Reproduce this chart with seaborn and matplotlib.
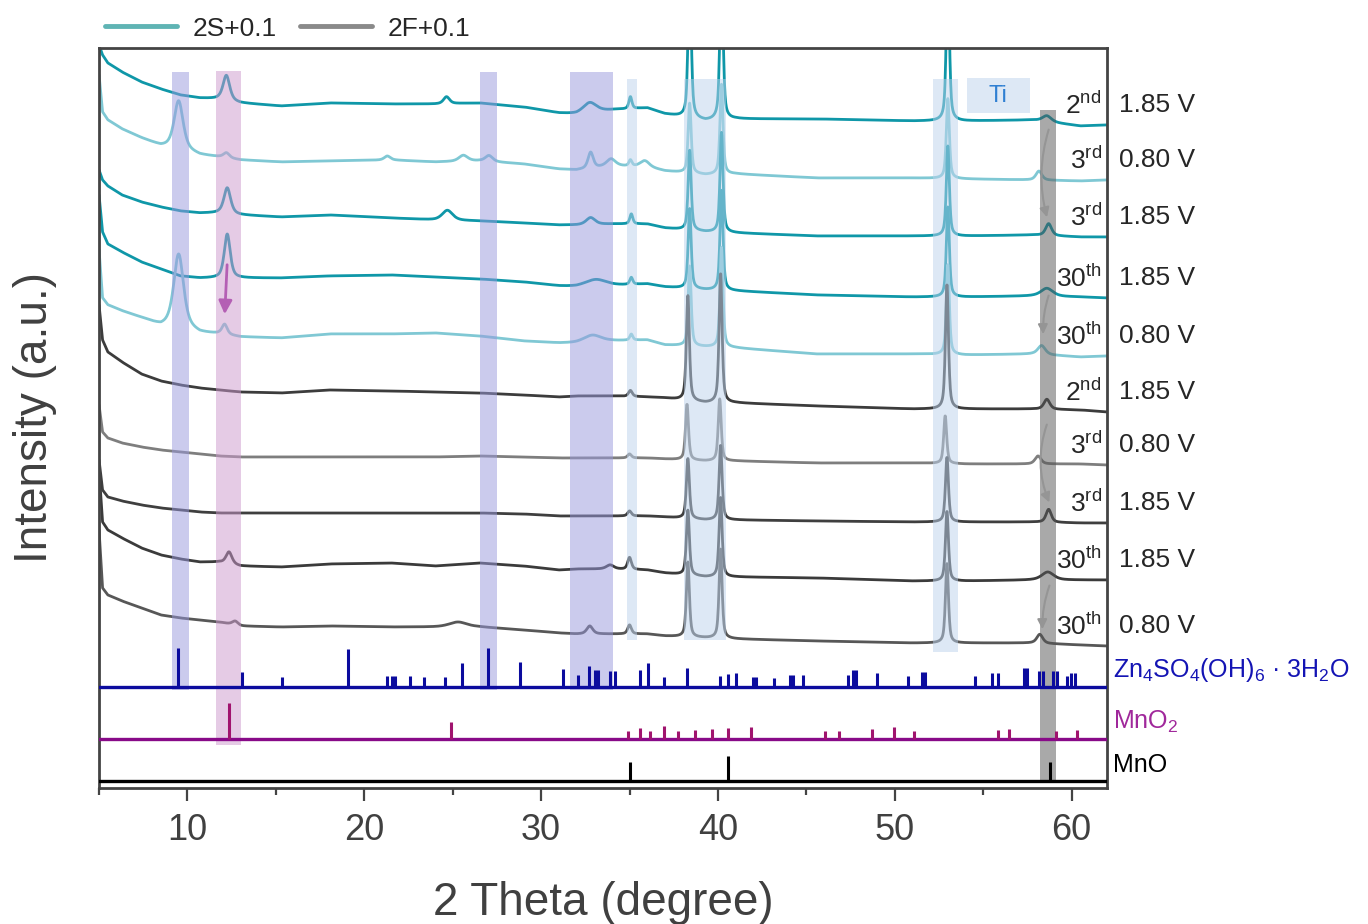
import numpy as np
import pandas as pd
import matplotlib
matplotlib.use('Agg')
import matplotlib.pyplot as plt
from matplotlib.lines import Line2D
import seaborn as sns

# ---- data ---------------------------------------------------------------
# 2-theta positions where the baselines were read
knots = [5.0, 5.2, 5.5, 6.3, 7.4, 8.5, 9.6, 10.7, 11.8, 13.0, 15.3, 18.0, 21.5, 24.0,
         26.5, 29.0, 31.0, 32.0, 34.0, 36.0, 37.0, 39.3, 41.0, 45.6, 51.0, 54.0, 57.8,
         60.5, 62.0]

# stacked baselines (a.u., offsets included), top curve first
base_2s_2nd_185 = [743, 733, 725, 716, 706, 699, 693, 690, 689, 685, 682, 685, 684, 684,
                   685, 681, 675, 674, 678, 680, 674, 667, 669, 669, 667, 667, 668, 662, 663]
base_2s_3rd_080 = [713, 676, 668, 659, 650, 642, 639, 633, 631, 628, 626, 627, 628, 626,
                   627, 624, 619, 618, 622, 621, 617, 613, 614, 610, 610, 609, 608, 607, 608]
base_2s_3rd_185 = [618, 608, 602, 593, 586, 581, 577, 575, 575, 573, 571, 573, 570, 568,
                   567, 565, 563, 563, 564, 564, 560, 556, 555, 552, 552, 552, 553, 551, 551]
base_2s_30th_185 = [593, 556, 544, 536, 526, 519, 512, 510, 510, 510, 510, 512, 513, 511,
                    509, 506, 502, 501, 502, 504, 501, 498, 497, 493, 491, 491, 492, 491, 490]
base_2s_30th_080 = [538, 490, 483, 477, 470, 462, 462, 455, 454, 451, 450, 454, 454, 455,
                    452, 447, 445, 445, 447, 448, 443, 441, 440, 434, 434, 433, 434, 431, 432]
base_2f_2nd_185 = [483, 448, 436, 426, 414, 407, 403, 400, 398, 396, 395, 398, 397, 396,
                   395, 393, 391, 392, 392, 391, 390, 385, 385, 382, 379, 379, 379, 378, 376]
base_2f_3rd_080 = [383, 356, 350, 345, 341, 338, 336, 334, 332, 331, 331, 331, 331, 331,
                   332, 331, 330, 330, 330, 330, 329, 327, 327, 325, 325, 324, 324, 324, 323]
base_2f_3rd_185 = [328, 298, 291, 287, 283, 280, 278, 276, 275, 275, 275, 275, 275, 275,
                   275, 274, 272, 272, 272, 272, 271, 268, 268, 267, 266, 266, 266, 265, 265]
base_2f_30th_185 = [318, 266, 258, 250, 240, 233, 229, 226, 226, 222, 221, 224, 225, 222,
                    225, 222, 218, 219, 219, 218, 215, 211, 211, 210, 207, 207, 208, 208, 208]
base_2f_30th_080 = [258, 200, 193, 187, 180, 173, 170, 168, 166, 162, 161, 162, 161, 161,
                    161, 158, 155, 154, 154, 154, 152, 150, 149, 147, 145, 145, 145, 143, 142]

# peaks: (2-theta, height, fwhm)
peaks_2s_2nd_185 = [(12.2, 25, 0.45), (24.65, 7, 0.4), (32.75, 10, 0.9), (35.05, 12, 0.2),
                    (38.4, 160, 0.2), (40.2, 170, 0.2), (53.0, 160, 0.2), (58.6, 6, 0.6)]
peaks_2s_3rd_080 = [(9.5, 48, 0.6), (12.2, 5, 0.4), (21.3, 4, 0.4), (25.6, 6, 0.6),
                    (27.05, 6, 0.5), (32.8, 16, 0.35), (33.95, 7, 0.6), (35.05, 6, 0.2),
                    (35.85, 6, 0.6), (38.4, 70, 0.2), (40.2, 90, 0.2), (53.0, 80, 0.2),
                    (58.15, 9, 0.4)]
peaks_2s_3rd_185 = [(12.25, 26, 0.45), (24.7, 10, 0.7), (32.8, 7, 0.6), (35.1, 10, 0.2),
                    (38.4, 80, 0.2), (40.2, 100, 0.2), (53.0, 90, 0.2), (58.7, 12, 0.4)]
peaks_2s_30th_185 = [(12.25, 44, 0.4), (33.1, 7, 1.5), (35.1, 7, 0.2), (38.4, 80, 0.2),
                     (40.2, 100, 0.2), (53.0, 90, 0.2), (58.6, 8, 0.8)]
peaks_2s_30th_080 = [(9.5, 72, 0.65), (12.1, 10, 0.35), (32.9, 7, 1.2), (35.1, 6, 0.2),
                     (38.4, 80, 0.2), (40.2, 100, 0.2), (53.0, 90, 0.2), (58.3, 9, 0.5)]
peaks_2f_2nd_185 = [(35.05, 6, 0.25), (38.3, 105, 0.2), (40.15, 130, 0.2),
                    (52.95, 125, 0.2), (58.6, 10, 0.4)]
peaks_2f_3rd_080 = [(35.0, 4, 0.25), (38.25, 56, 0.2), (40.1, 62, 0.2), (52.85, 48, 0.2),
                    (58.1, 8, 0.4)]
peaks_2f_3rd_185 = [(35.0, 5, 0.25), (38.3, 60, 0.2), (40.15, 75, 0.2), (52.95, 65, 0.2),
                    (58.7, 13, 0.35)]
peaks_2f_30th_185 = [(12.35, 12, 0.4), (33.9, 4, 0.5), (35.0, 12, 0.25), (38.3, 65, 0.2),
                     (40.15, 80, 0.2), (52.95, 70, 0.2), (58.65, 8, 0.8)]
peaks_2f_30th_080 = [(12.7, 4, 0.4), (25.3, 5, 1.2), (32.75, 8, 0.4), (35.0, 9, 0.25),
                     (38.3, 75, 0.2), (40.15, 90, 0.2), (52.95, 80, 0.2), (58.2, 9, 0.4)]

cycles = ['2nd', '3rd', '3rd', '30th', '30th', '2nd', '3rd', '3rd', '30th', '30th']
voltages = ['1.85 V', '0.80 V', '1.85 V', '1.85 V', '0.80 V',
            '1.85 V', '0.80 V', '1.85 V', '1.85 V', '0.80 V']

# reference stick patterns (2-theta, relative height)
zn_pos = [9.49, 13.09, 15.37, 19.09, 21.26, 21.54, 21.71, 22.6, 23.39, 24.58, 25.55, 26.97,
          28.78, 31.25, 32.08, 32.7, 33.05, 33.21, 33.89, 34.18, 35.58, 36.07, 36.96, 38.27,
          40.12, 40.59, 41.03, 42.01, 42.14, 43.18, 44.05, 44.25, 44.79, 47.36, 47.66, 47.81,
          49.02, 50.74, 51.52, 51.71, 54.53, 55.5, 55.84, 57.3, 57.49, 58.17, 58.37, 58.95,
          59.19, 59.73, 59.98, 60.18]
zn_int = [39, 15, 10, 38, 11, 11, 11, 11, 10, 10, 24, 39, 25, 18, 12, 21, 17, 17, 16, 16,
          17, 24, 10, 19, 11, 13, 14, 10, 10, 9, 12, 12, 12, 12, 17, 17, 14, 11, 15, 15, 11,
          14, 14, 19, 19, 16, 16, 16, 16, 11, 14, 14]
mno2_pos = [12.36, 24.88, 34.9, 35.58, 36.16, 36.96, 37.72, 38.72, 39.69, 40.57, 41.87,
            46.04, 46.82, 48.69, 49.97, 51.1, 55.84, 56.44, 59.11, 60.28]
mno2_int = [36, 17, 8, 11, 8, 13, 8, 9, 10, 11, 12, 8, 8, 10, 12, 8, 9, 10, 8, 9]
mno_pos = [35.0, 40.59, 58.76]
mno_int = [19, 25, 19]

# ---- build curves --------------------------------------------------------
names = [f'{s} {c} {v}' for s in ('2S', '2F') for c, v in
         zip(cycles[:5], voltages[:5])]
bases = [base_2s_2nd_185, base_2s_3rd_080, base_2s_3rd_185, base_2s_30th_185,
         base_2s_30th_080, base_2f_2nd_185, base_2f_3rd_080, base_2f_3rd_185,
         base_2f_30th_185, base_2f_30th_080]
peaks = [peaks_2s_2nd_185, peaks_2s_3rd_080, peaks_2s_3rd_185, peaks_2s_30th_185,
         peaks_2s_30th_080, peaks_2f_2nd_185, peaks_2f_3rd_080, peaks_2f_3rd_185,
         peaks_2f_30th_185, peaks_2f_30th_080]
colors = ['#0f97a8', '#7fc8d4', '#0f97a8', '#0f97a8', '#80c8d4',
          '#3c3c3c', '#7e7e7e', '#3f3f3f', '#3b3b3b', '#575757']


def pattern(x, base, pk):
    y = np.interp(x, knots, base)
    for c, h, w in pk:
        d = (x - c) / w
        y = y + h * (0.6 / (1 + 4 * d ** 2) + 0.4 * np.exp(-4 * np.log(2) * d ** 2))
    return y


tt = np.arange(5.0, 62.001, 0.02)
frames = []
for n, b, p in zip(names, bases, peaks):
    frames.append(pd.DataFrame({'2theta': tt, 'intensity': pattern(tt, b, p), 'curve': n}))
df = pd.concat(frames, ignore_index=True)

# ---- plot ----------------------------------------------------------------
sns.set_style('white')
plt.rcParams['font.family'] = ['Liberation Sans', 'DejaVu Sans']
plt.rcParams['mathtext.fontset'] = 'custom'
plt.rcParams['mathtext.rm'] = 'Liberation Sans'
plt.rcParams['mathtext.it'] = 'Liberation Sans:italic'

fig = plt.figure(figsize=(13.68, 9.24), dpi=100)
ax = fig.add_axes([0.0724, 0.1472, 0.7368, 0.8009])

sns.lineplot(data=df, x='2theta', y='intensity', hue='curve', hue_order=names,
             palette=dict(zip(names, colors)), estimator=None, sort=False,
             legend=False, lw=2.0, ax=ax)

# highlight bands (drawn over the curves, semi transparent)
lav, pink, lblue, grey = '#9898dc', '#cc98cc', '#bcd2ec', '#555555'
bands = [(9.1, 10.11, 98, 716, lav), (11.64, 13.0, 43, 717, pink),
         (26.52, 27.48, 98, 716, lav), (31.66, 34.04, 98, 716, lav),
         (34.85, 35.4, 148, 709, lblue), (38.07, 40.45, 148, 709, lblue),
         (52.14, 53.55, 136, 709, lblue), (58.19, 59.1, 8, 678, grey),
         (54.06, 57.62, 675, 710, lblue)]
for x0, x1, y0, y1, c in bands:
    ax.fill_between([x0, x1], y0, y1, color=c, alpha=0.5, lw=0, zorder=3)
ax.text(55.84, 692, 'Ti', color='#2f7fd2', fontsize=17, ha='center', va='center', zorder=5)

# reference sticks
for pos, inten, y0, lc, sc in [(zn_pos, zn_int, 101, '#0b0b9e', '#0b0b9e'),
                               (mno2_pos, mno2_int, 49, '#880a88', '#a0146e'),
                               (mno_pos, mno_int, 7, 'black', 'black')]:
    ax.axhline(y0, color=lc, lw=2.4, zorder=4)
    ax.vlines(pos, y0, np.array(inten) + y0, color=sc, lw=2.2, zorder=4)

ax.text(62.35, 118, r'Zn$_4$SO$_4$(OH)$_6$ · 3H$_2$O', color='#1414b4', fontsize=18,
        va='center', ha='left')
ax.text(62.35, 66, r'MnO$_2$', color='#a0289b', fontsize=18, va='center', ha='left')
ax.text(62.35, 23, 'MnO', color='black', fontsize=18, va='center', ha='left')

# curve labels
for b, cyc, volt in zip(bases, cycles, voltages):
    ylab = b[-1] + 20
    num, suf = cyc[:-2], cyc[-2:]
    ax.text(61.7, ylab, num + r'$^{\mathrm{' + suf + '}}$', fontsize=19, ha='right',
            va='center', zorder=6)
    ax.text(62.7, ylab, volt, fontsize=19, ha='left', va='center')

# arrows
ax.annotate('', xy=(12.1, 471), xytext=(12.25, 526),
            arrowprops=dict(arrowstyle='-|>', color='#b45fb4', lw=2, mutation_scale=20),
            zorder=6)
for (x0, y0), (x1, y1), r in [((58.75, 661), (58.65, 568), 0.15),
                              ((58.75, 495), (58.4, 451), 0.1),
                              ((58.65, 366), (58.8, 283), 0.2),
                              ((58.8, 205), (58.35, 156), 0.1)]:
    ax.annotate('', xy=(x1, y1), xytext=(x0, y0),
                arrowprops=dict(arrowstyle='-|>', color='#959595', lw=1.5,
                                mutation_scale=14, connectionstyle=f'arc3,rad={r}'),
                zorder=6)

ax.set_xlim(5, 62)
ax.set_ylim(0, 740)
ax.set_yticks([])
ax.set_xticks([10, 20, 30, 40, 50, 60])
ax.set_xticks([5, 15, 25, 35, 45, 55], minor=True)
ax.tick_params(axis='x', which='major', direction='out', length=9, width=1.6,
               color='#444444', labelsize=26, labelcolor='#404040', pad=9, bottom=True)
ax.tick_params(axis='x', which='minor', direction='out', length=5, width=1.6,
               color='#444444', bottom=True)
for s in ax.spines.values():
    s.set_color('#444444')
    s.set_linewidth(2)
ax.set_xlabel('2 Theta (degree)', fontsize=33, color='#404040', labelpad=24)
ax.set_ylabel('Intensity (a.u.)', fontsize=33, color='#404040', labelpad=30)

handles = [Line2D([], [], color='#5fb4b4', lw=3.5), Line2D([], [], color='#8a8a8a', lw=3.5)]
fig.legend(handles, ['2S+0.1', '2F+0.1'], loc='center left', bbox_to_anchor=(0.077, 0.969),
           ncol=2, frameon=False, fontsize=19, handlelength=2.7, handletextpad=0.6,
           columnspacing=0.9, borderpad=0, borderaxespad=0)

fig.savefig('out.png', dpi=100)
